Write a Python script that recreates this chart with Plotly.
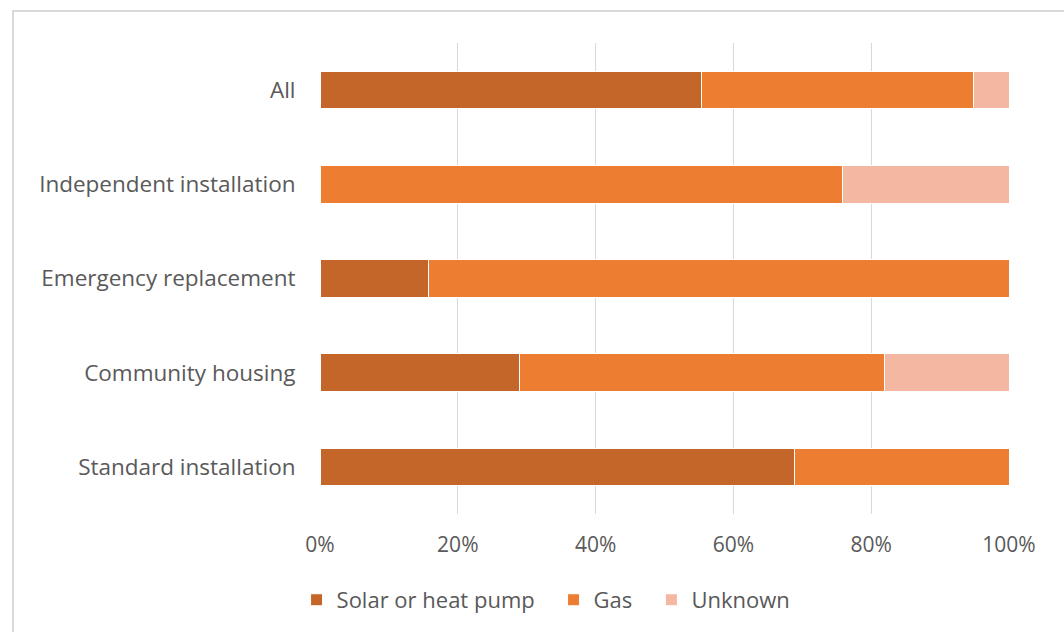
import plotly.graph_objects as go

# Données (part des installations, en %)
categories = ["Standard installation", "Community housing", "Emergency replacement",
              "Independent installation", "All"]
solar = [68.9, 29.0, 15.7, 0.0, 55.4]
gas = [31.1, 53.0, 84.3, 75.9, 39.5]
unknown = [0.0, 18.0, 0.0, 24.1, 5.1]

series = ["Solar or heat pump", "Gas", "Unknown"]
colors = ["#C4662A", "#ED7D31", "#F4B7A2"]
tick_vals = [0, 20, 40, 60, 80, 100]
tick_text = ["0%", "20%", "40%", "60%", "80%", "100%"]

font_col = "#595959"

# une légende par série pour reproduire l'espacement d'Excel
legend_ids = ["legend", "legend2", "legend3"]
legend_x = [-0.034, 0.339, 0.481]

fig = go.Figure()
for name, vals, col, lg in zip(series, [solar, gas, unknown], colors, legend_ids):
    fig.add_trace(go.Bar(
        y=categories, x=vals, name=name, orientation="h",
        marker=dict(color=col, line=dict(color="white", width=1)),
        width=0.4, legend=lg,
    ))

legends = {}
for lg, lx in zip(legend_ids, legend_x):
    legends[lg] = dict(orientation="h", x=lx, xanchor="left", y=-0.18, yanchor="middle",
                       font=dict(size=22, color=font_col), itemwidth=30,
                       bgcolor="rgba(0,0,0,0)")

fig.update_layout(
    barmode="stack",
    width=1064, height=632,
    margin=dict(l=320, r=55, t=43, b=117),
    plot_bgcolor="white", paper_bgcolor="white",
    font=dict(family="Open Sans", size=21, color=font_col),
    showlegend=True,
    xaxis=dict(range=[0, 100], tickvals=tick_vals, ticktext=tick_text,
               showgrid=True, gridcolor="#d9d9d9", gridwidth=1, zeroline=False,
               ticks="outside", tickcolor="rgba(0,0,0,0)", ticklen=12,
               showline=False, fixedrange=True, tickfont=dict(size=21)),
    yaxis=dict(categoryorder="array", categoryarray=categories,
               ticks="outside", tickcolor="rgba(0,0,0,0)", ticklen=19,
               showgrid=False, showline=False, tickfont=dict(size=22.5)),
    **legends,
)

# Cadre gris autour du graphique
fig.add_shape(type="rect", xref="paper", yref="paper",
              x0=-0.4456, x1=1.2, y0=-0.5, y1=1.068,
              line=dict(color="#d9d9d9", width=2), fillcolor="rgba(0,0,0,0)",
              layer="below")

fig.write_html("out.html", config={"displayModeBar": False},
               post_script="document.body.style.margin='0';")
